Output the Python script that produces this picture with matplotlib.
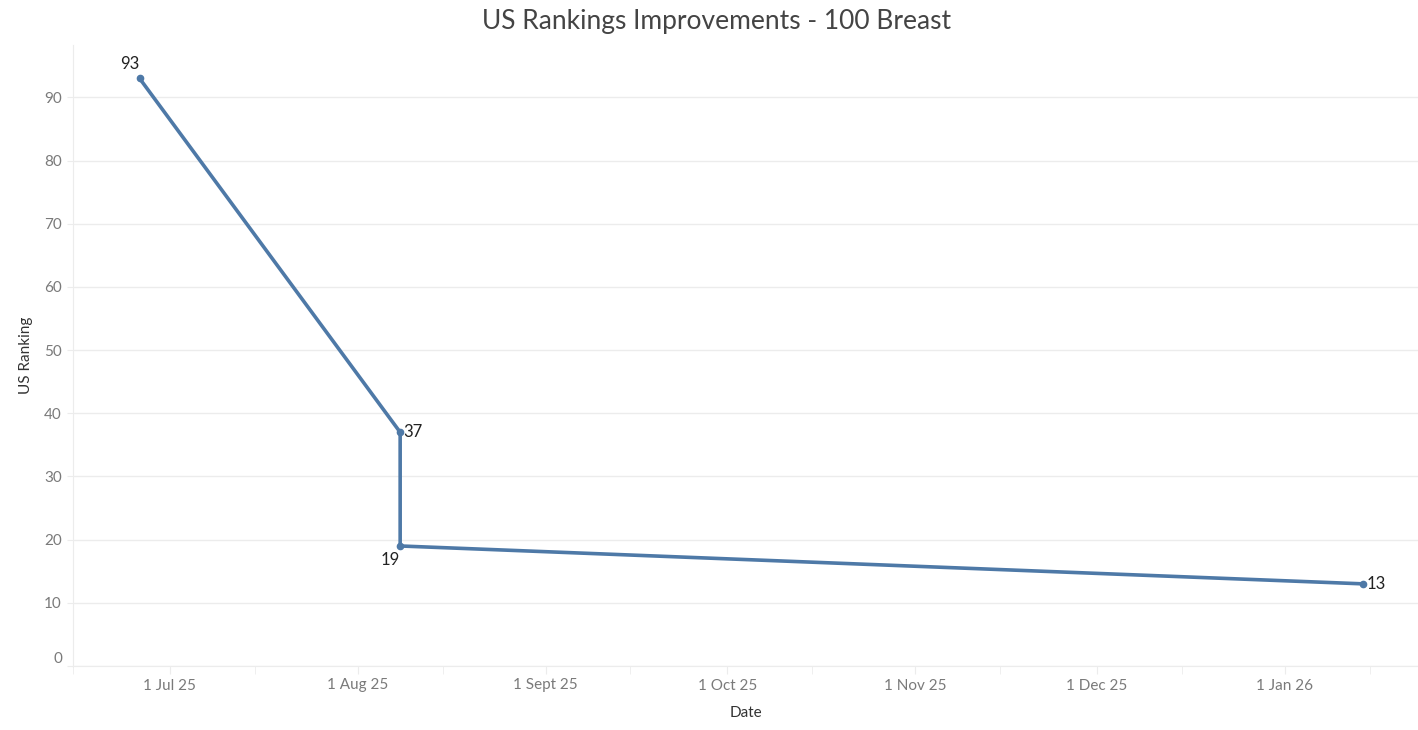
import matplotlib
matplotlib.use("Agg")
import matplotlib.pyplot as plt
import matplotlib.dates as mdates
import numpy as np
from datetime import datetime

plt.rcParams['font.family'] = ['Lato', 'DejaVu Sans']

dates = [datetime(2025, 6, 26), datetime(2025, 8, 8), datetime(2025, 8, 8), datetime(2026, 1, 14)]
ranks = [93, 37, 19, 13]
label_pos = ["above", "right", "below", "right"]
tick_dates = [datetime(2025, 7, 1), datetime(2025, 8, 1), datetime(2025, 9, 1), datetime(2025, 10, 1),
              datetime(2025, 11, 1), datetime(2025, 12, 1), datetime(2026, 1, 1)]
tick_labels = ["1 Jul 25", "1 Aug 25", "1 Sept 25", "1 Oct 25", "1 Nov 25", "1 Dec 25", "1 Jan 26"]

line_color = "#4e79a7"
grid_color = "#ececec"
tick_color = "#7a7a7a"

fig = plt.figure(figsize=(14.18, 7.30), dpi=100)
ax = fig.add_axes([73/1418, 1 - 666/730, (1418 - 73)/1418, (666 - 45)/730])

ax.plot(dates, ranks, color=line_color, lw=2.6, marker="o", ms=4.5, solid_joinstyle="round", zorder=3, clip_on=False)

for d, r, p in zip(dates, ranks, label_pos):
    if p == "above":
        ax.annotate(str(r), (d, r), xytext=(-7, 5), textcoords="offset points", fontsize=12, color="#222222", va="bottom", ha="center")
    elif p == "below":
        ax.annotate(str(r), (d, r), xytext=(-7, -4), textcoords="offset points", fontsize=12, color="#222222", va="top", ha="center")
    else:
        ax.annotate(str(r), (d, r), xytext=(2, 0), textcoords="offset points", fontsize=12, color="#222222", va="center", ha="left")

ax.set_ylim(0, 98.3)
ax.set_xlim(datetime(2025, 6, 15), datetime(2026, 1, 23))
ax.set_yticks(np.arange(0, 100, 10))
ax.yaxis.grid(True, color=grid_color, lw=1)
ax.set_axisbelow(True)

ax.xaxis.set_minor_locator(mdates.MonthLocator(bymonthday=15))
ax.set_xticks(tick_dates)
ax.set_xticklabels(tick_labels)

for s in ["top", "right"]:
    ax.spines[s].set_visible(False)
ax.spines["left"].set_color(grid_color)
ax.spines["bottom"].set_color(grid_color)
ax.tick_params(axis="y", length=4, color=grid_color, labelsize=11, labelcolor=tick_color, pad=4)
ax.tick_params(axis="x", which="both", length=6, color=grid_color, labelsize=11, labelcolor=tick_color, pad=3)
ax.yaxis.get_majorticklabels()[0].set_va("bottom")

ax.set_xlabel("Date", fontsize=11, color="#333333", labelpad=10)
ax.set_ylabel("US Ranking", fontsize=11, color="#333333", labelpad=8)

fig.text(0.505, 1 - 22/730, "US Rankings Improvements - 100 Breast", fontsize=19, color="#444444",
         ha="center", va="center")

fig.savefig("out.png", dpi=100)
